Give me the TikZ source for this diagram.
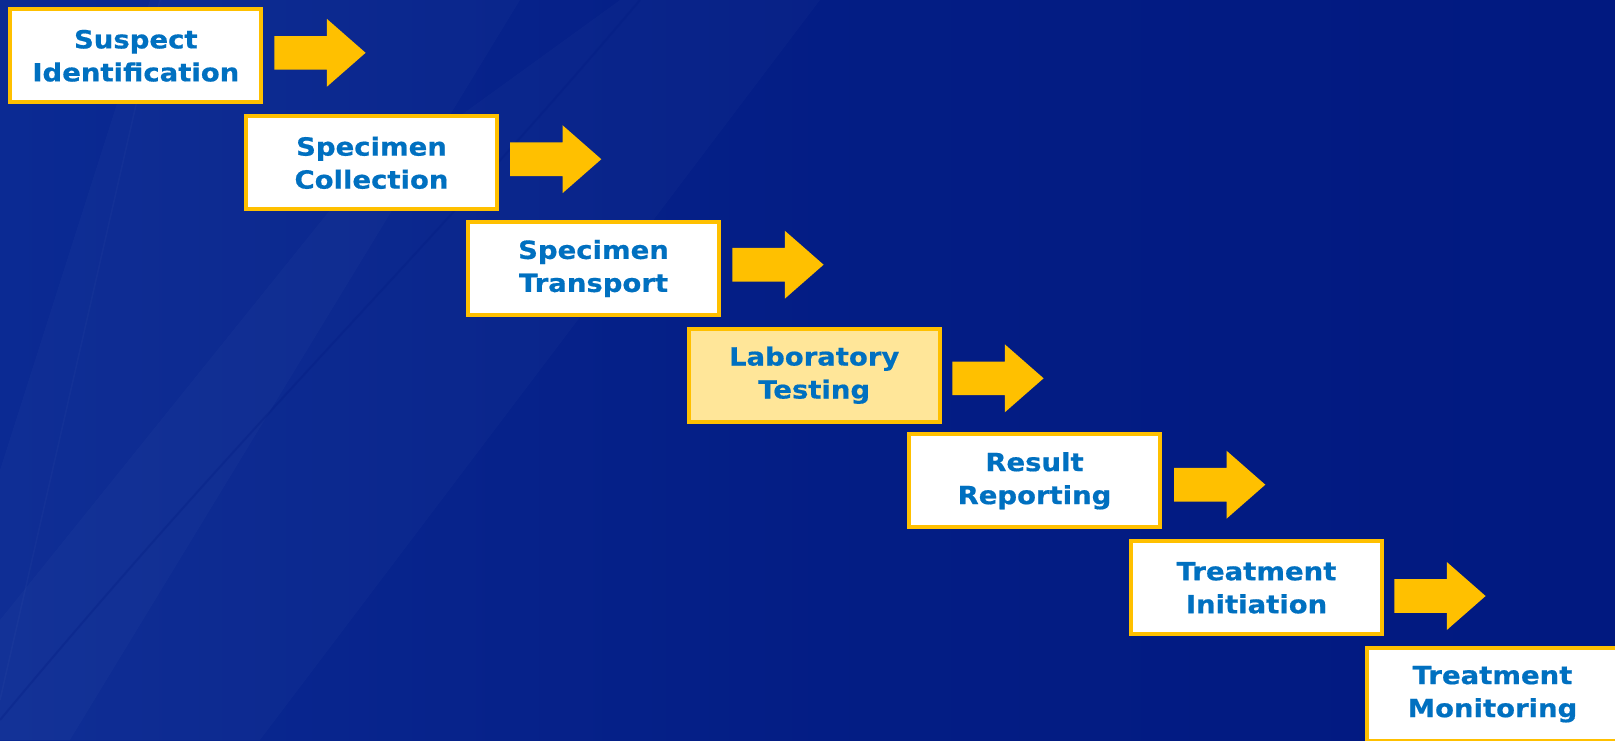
\documentclass[tikz,border=0pt]{standalone}
\usepackage{fontspec}
\newfontfamily\stepfont{DejaVu Sans}[FakeStretch=1.1, FakeBold=0.6]
\usetikzlibrary{calc}

\definecolor{bgdeep}{HTML}{011980}
\definecolor{bgsoft}{HTML}{0B2A93}
\definecolor{frameGold}{HTML}{FFC000}
\definecolor{labFill}{HTML}{FFE699}
\definecolor{labelBlue}{HTML}{0070C0}

\tikzset{
  stage/.style={draw=frameGold, line width=4pt, fill=white,
    minimum width=251pt, minimum height=93pt, inner sep=0pt,
    align=center, text=labelBlue,
    font=\stepfont\bfseries\fontsize{25}{33}\selectfont},
  current/.style={stage, fill=labFill},
  blockarrow/.style={fill=frameGold, draw=none},
  streak/.style={white, opacity=0.018},
}

% block arrow: #1 = left end of the shaft, #2 = centre line
\newcommand\flowarrow[2]{%
  \fill[blockarrow] (#1,#2-16.8) -- ++(52.5,0) -- ++(0,-17.2)
    -- (#1+91.3,#2) -- (#1+52.5,#2+34) -- ++(0,-17.2)
    -- (#1,#2+16.8) -- cycle;}

\begin{document}
\begin{tikzpicture}[x=1pt, y=-1pt]
  \useasboundingbox (0,0) rectangle (1615,740);
  \clip (0,0) rectangle (1615,740);

  % background
  \shade[left color=bgsoft, right color=bgdeep, middle color=bgdeep!75!bgsoft]
    (0,0) rectangle (1615,740);
  \fill[streak] (0,740) -- (0,470) -- (150,0) -- (520,0) -- (70,740) -- cycle;
  \fill[streak] (0,740) -- (0,620) -- (330,210) -- (620,0) -- (820,0) -- (260,740) -- cycle;
  \draw[white, opacity=0.025, line width=1.5pt] (0,700) -- (160,0);
  \draw[bgdeep, opacity=0.25, line width=2pt] (0,720) .. controls (250,420) and (420,260) .. (640,0);

  % process stages
  \node[stage]   (s1) at (135.8, 55.8)  {Suspect\\Identification};
  \node[stage]   (s2) at (371.5,162.8)  {Specimen\\Collection};
  \node[stage]   (s3) at (593.5,268.5)  {Specimen\\Transport};
  \node[current] (s4) at (814.2,375.2)  {Laboratory\\Testing};
  \node[stage]   (s5) at (1034.5,480.8) {Result\\Reporting};
  \node[stage]   (s6) at (1256.5,587.8) {Treatment\\Initiation};
  \node[stage]   (s7) at (1492.5,694.2) {Treatment\\Monitoring};

  % arrows between stages
  \flowarrow{274.3}{52.8}
  \flowarrow{510.0}{159.2}
  \flowarrow{732.3}{264.7}
  \flowarrow{952.3}{378.3}
  \flowarrow{1174.0}{484.7}
  \flowarrow{1394.3}{596.0}
\end{tikzpicture}
\end{document}
